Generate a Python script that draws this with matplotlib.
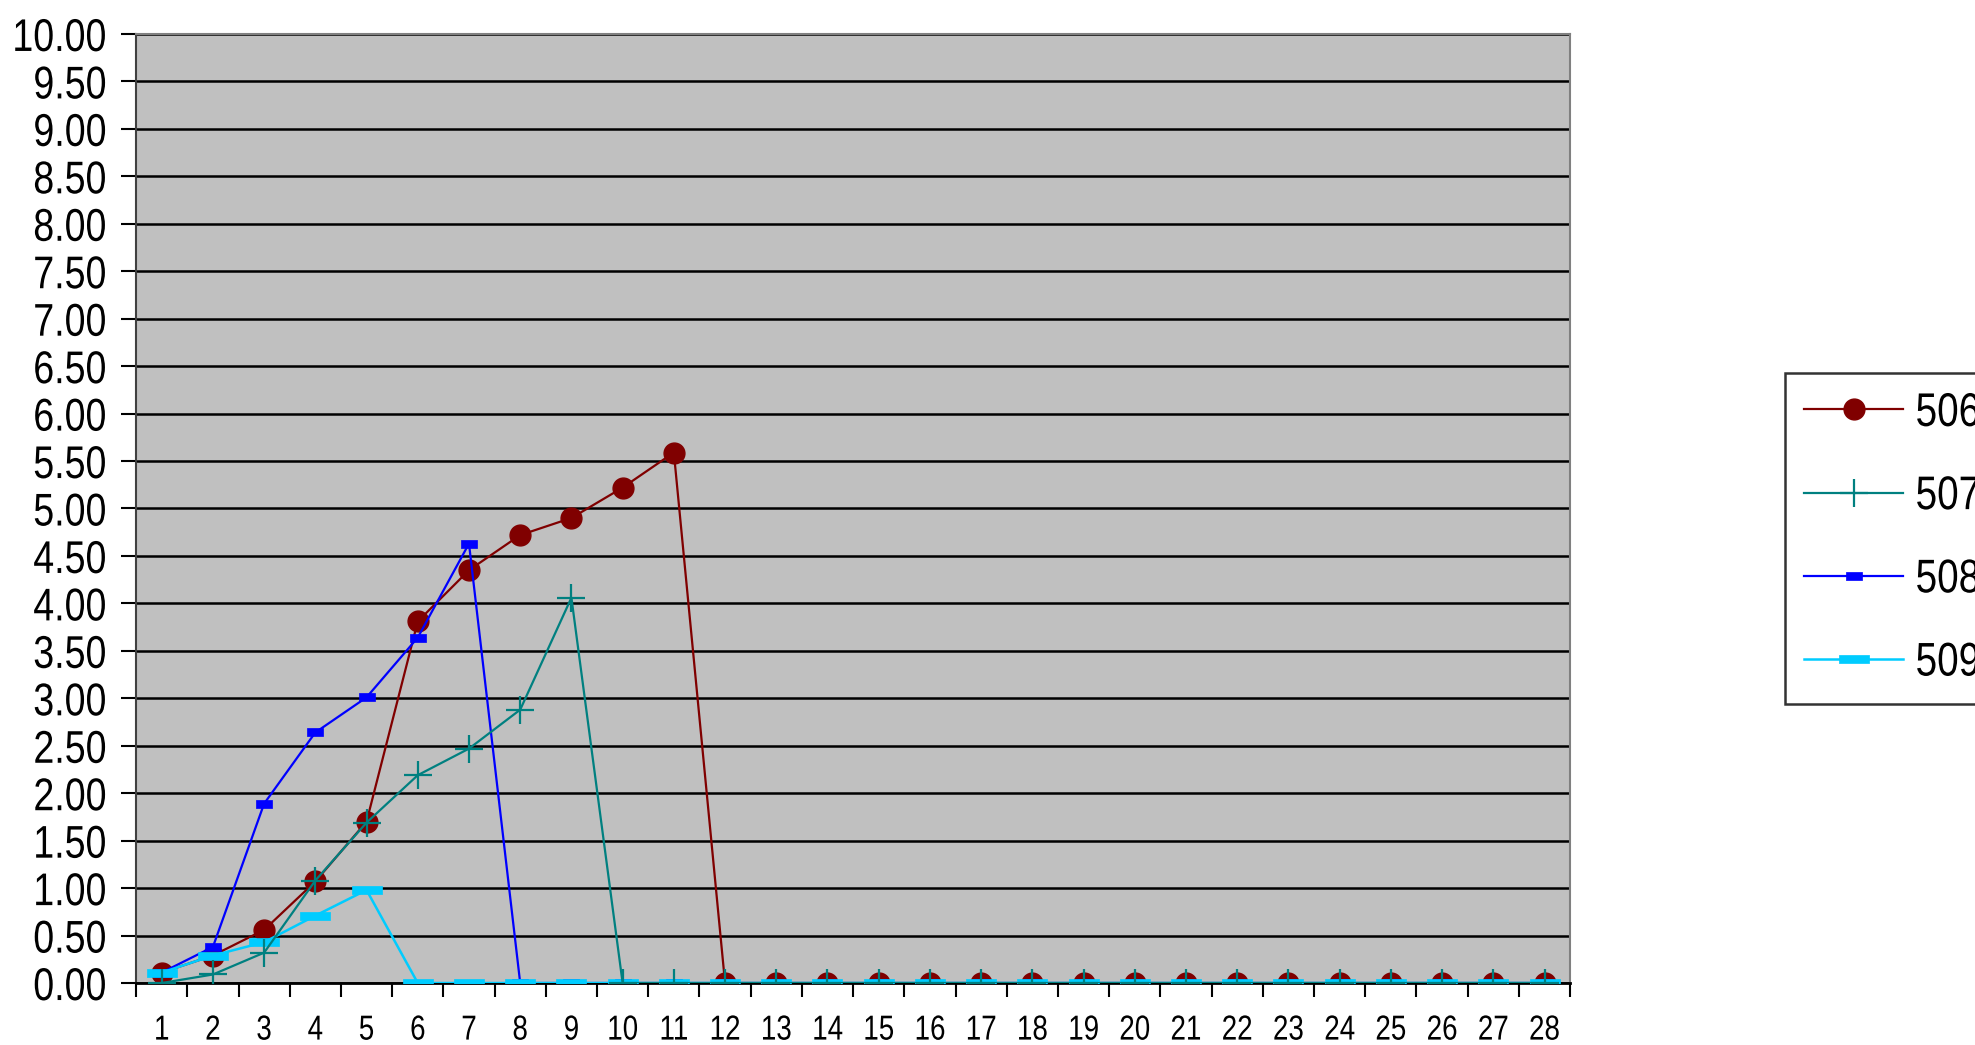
import numpy as np
import matplotlib
matplotlib.use("Agg")
import matplotlib.pyplot as plt
from matplotlib.patheffects import AbstractPathEffect
from matplotlib.transforms import Affine2D

plt.rcParams['font.family'] = ['Liberation Sans', 'DejaVu Sans']

days = list(range(1, 29))
s506 = [0.11, 0.29, 0.56, 1.07, 1.70, 3.81, 4.35, 4.72, 4.90, 5.22, 5.59] + [0.0] * 17
s507 = [0.00, 0.09, 0.32, 1.08, 1.69, 2.19, 2.47, 2.88, 4.06] + [0.0] * 19
s508 = [0.11, 0.38, 1.89, 2.64, 3.01, 3.64, 4.63] + [0.0] * 21
s509 = [0.11, 0.29, 0.43, 0.71, 0.98] + [0.0] * 23
names = ['506', '507', '508', '509']


class Narrow(AbstractPathEffect):
    # squeeze glyphs sideways (the original uses a tall, narrow Arial)
    def __init__(self, sx, anchor='left'):
        super().__init__()
        self.sx = sx
        self.anchor = anchor

    def draw_path(self, renderer, gc, tpath, affine, rgbFace=None):
        ext = tpath.get_extents()
        if self.anchor == 'right':
            a = ext.x1
        elif self.anchor == 'center':
            a = (ext.x0 + ext.x1) / 2
        else:
            a = ext.x0
        t = Affine2D().translate(-a, 0).scale(self.sx, 1).translate(a, 0)
        renderer.draw_path(gc, tpath, t + affine, rgbFace)


rect_thin = [(-1, -0.45), (1, -0.45), (1, 0.45), (-1, 0.45), (-1, -0.45)]
rect_wide = [(-1, -0.28), (1, -0.28), (1, 0.28), (-1, 0.28), (-1, -0.28)]

fig = plt.figure(figsize=(19.75, 10.45), dpi=100)
ax = fig.add_axes([0.0689, 0.0593, 0.7261, 0.9082])
ax.set_facecolor('#C0C0C0')

h506, = ax.plot(days, s506, color='#800000', lw=1.6, marker='o', ms=15,
                mfc='#800000', mec='#800000', label=names[0], zorder=3)
h508, = ax.plot(days, s508, color='#0000FF', lw=1.6, marker=rect_thin, ms=12,
                mfc='#0000FF', mec='#0000FF', mew=0.5, label=names[2], zorder=4)
h509, = ax.plot(days, s509, color='#00CCFF', lw=1.8, marker=rect_wide, ms=22,
                mfc='#00CCFF', mec='#00CCFF', mew=0.5, label=names[3], zorder=5)
h507, = ax.plot(days, s507, color='#008080', lw=1.6, marker='+', ms=20,
                mew=1.6, label=names[1], zorder=6)

ax.set_xlim(0.5, 28.5)
ax.set_ylim(0, 10)
yt = np.arange(0, 10.01, 0.5)
ax.set_yticks(yt)
ax.set_yticklabels(['%.2f' % v for v in yt], fontsize=33)
ax.yaxis.grid(True, color='black', lw=1.8)
ax.set_axisbelow(True)

ax.set_xticks(days)
ax.set_xticklabels([str(d) for d in days], fontsize=25)
ax.set_xticks(np.arange(0.5, 28.6, 1), minor=True)
ax.tick_params(axis='x', which='major', length=0, pad=22)
ax.tick_params(axis='x', which='minor', length=10, width=1.5, color='black')
ax.tick_params(axis='y', length=11, width=1.5, pad=10)

for lab in ax.get_yticklabels():
    lab.set_path_effects([Narrow(0.82, 'right')])
for lab in ax.get_xticklabels():
    lab.set_path_effects([Narrow(0.8, 'center')])

ax.spines['bottom'].set_color('black')
ax.spines['bottom'].set_linewidth(2)
ax.spines['left'].set_color('#404040')
ax.spines['left'].set_linewidth(1.5)
ax.spines['top'].set_color('#808080')
ax.spines['right'].set_color('#808080')
ax.spines['top'].set_linewidth(1.5)
ax.spines['right'].set_linewidth(1.5)

leg = fig.legend(handles=[h506, h507, h508, h509], labels=names,
                 loc='upper left', bbox_to_anchor=(0.904, 0.643),
                 fontsize=34, frameon=True, fancybox=False, edgecolor='black',
                 handlelength=2.1, handletextpad=0.25, labelspacing=0.83,
                 borderpad=0.4, borderaxespad=0)
leg.get_frame().set_linewidth(1.8)
for t in leg.get_texts():
    t.set_path_effects([Narrow(0.82, 'left')])

fig.savefig('out.png', dpi=100, facecolor='white')
